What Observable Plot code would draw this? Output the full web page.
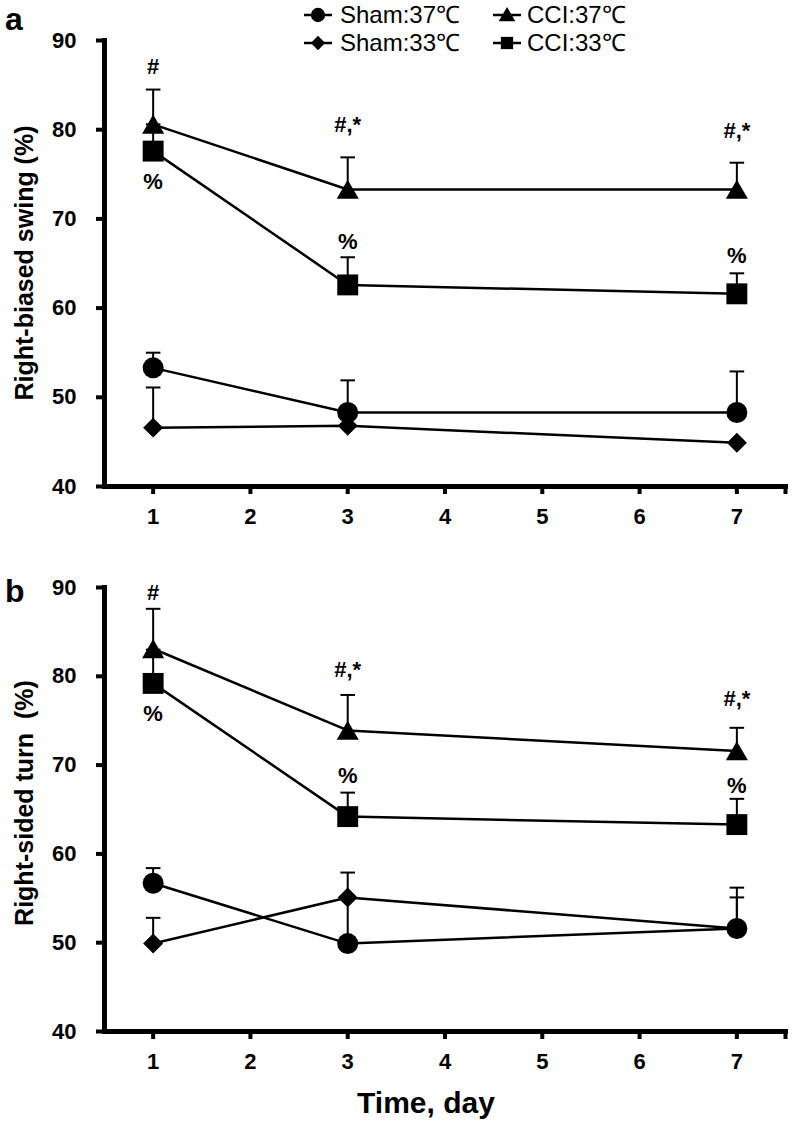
<!DOCTYPE html>
<html>
<head>
<meta charset="utf-8">
<script src="https://cdn.jsdelivr.net/npm/d3@7"></script>
<script src="https://cdn.jsdelivr.net/npm/@observablehq/plot@0.6"></script>
<style>
  body { margin: 0; background: white; }
  #root { position: relative; width: 792px; height: 1124px; overflow: hidden; background: white; }
  .abs { position: absolute; white-space: nowrap; }
  .panel { position: absolute; left: 0; }
  .panel text { font-family: "Liberation Sans", Arial, sans-serif; font-weight: bold; }
  .panel [aria-label$="tick label"] text { font-size: 22px !important; font-weight: bold; }
  .panel [aria-label$="axis tick"] { stroke-width: 4px !important; }
  .panel [aria-label="frame"] { stroke-width: 5px !important; }
  .ylab { position: absolute; font-family: "Liberation Sans", Arial, sans-serif; font-weight: bold; font-size: 25px;
          transform: translate(-50%, -50%) rotate(-90deg); white-space: pre; }
  .legtext { position: absolute; font-family: "Liberation Sans", Arial, sans-serif; font-size: 24px; line-height: 24px; transform: translateY(-50%); white-space: nowrap; }
</style>
</head>
<body>
<div id="root"></div>
<script>
// ---------------- data ----------------
const days = [1, 3, 7];
const groups = ["Sham:37℃", "Sham:33℃", "CCI:37℃", "CCI:33℃"];
const symbols = ["circle", "diamond2", "triangle", "square"];
const yTicks = [40, 50, 60, 70, 80, 90];
const xTicks = [1, 2, 3, 4, 5, 6, 7, 7.5];

// Panel a: Right-biased swing (%)
const aSham37 = [53.3, 48.3, 48.3];
const aSham37Err = [55.0, 51.9, 52.9];
const aSham33 = [46.6, 46.8, 44.9];
const aSham33Err = [51.1, null, null];
const aCCI37 = [80.6, 73.3, 73.3];
const aCCI37Err = [84.5, 76.9, 76.3];
const aCCI33 = [77.6, 62.6, 61.6];
const aCCI33Err = [80.6, 65.7, 63.9];

// Panel b: Right-sided turn (%)
const bSham37 = [56.7, 49.9, 51.6];
const bSham37Err = [58.4, 57.9, 56.2];
const bSham33 = [49.9, 55.1, 51.6];
const bSham33Err = [52.8, null, 55.1];
const bCCI37 = [83.1, 73.9, 71.6];
const bCCI37Err = [87.6, 77.9, 74.2];
const bCCI33 = [79.2, 64.2, 63.3];
const bCCI33Err = [83.0, 66.9, 66.2];

// significance annotations
const annDays = [1, 1, 3, 3, 7, 7];
const annLabels = ["#", "%", "#,*", "%", "#,*", "%"];
const aAnnY = [87.0, 74.1, 80.5, 67.4, 79.9, 65.8];
const bAnnY = [89.4, 75.8, 80.7, 68.8, 77.4, 67.7];

// ---------------- build ----------------
const symR = {circle: 10.5, diamond2: 9, triangle: 8.2, square: 11.8};
const symDy = {circle: 0, diamond2: 0, triangle: 3, square: 0};

function panel(series, annY, height, marginTop, marginBottom) {
  const data = [];
  groups.forEach((g, gi) => days.forEach((d, i) =>
    data.push({group: g, sym: symbols[gi], day: d, value: series[gi][0][i], err: series[gi][1][i]})));
  const errData = data.filter(d => d.err != null);
  const ann = annDays.map((d, i) => ({day: d, y: annY[i], label: annLabels[i]}));
  const dots = symbols.map(s => Plot.dot(data.filter(d => d.sym === s),
    {x: "day", y: "value", symbol: () => s, fill: "black", stroke: "none", r: symR[s], dy: symDy[s]}));
  return Plot.plot({
    width: 792, height, marginLeft: 104, marginRight: 7, marginTop, marginBottom,
    x: {domain: [0.5, 7.5]},
    y: {domain: [40, 90]},
    symbol: {type: "identity"},
    marks: [
      Plot.axisY({ticks: yTicks, tickSize: 8, tickPadding: 20, strokeWidth: 4, label: null, fontSize: 22}),
      Plot.axisX({ticks: xTicks, tickSize: 8, tickPadding: 14, strokeWidth: 4, label: null, fontSize: 22,
                  tickFormat: d => d === 7.5 ? "" : String(d)}),
      Plot.frame({anchor: "left", stroke: "black", strokeWidth: 5}),
      Plot.frame({anchor: "bottom", stroke: "black", strokeWidth: 5}),
      Plot.link(errData, {x1: "day", x2: "day", y1: "value", y2: "err", stroke: "black", strokeWidth: 2}),
      Plot.link(errData, {y1: "err", y2: "err", x1: d => d.day - 0.075, x2: d => d.day + 0.075, stroke: "black", strokeWidth: 2}),
      Plot.line(data, {x: "day", y: "value", z: "group", stroke: "black", strokeWidth: 2.5}),
      ...dots,
      Plot.text(ann, {x: "day", y: "y", text: "label", fontSize: 22, fontWeight: "bold", fill: "black"})
    ]
  });
}

const root = document.getElementById("root");

const pa = panel([[aSham37, aSham37Err], [aSham33, aSham33Err], [aCCI37, aCCI37Err], [aCCI33, aCCI33Err]], aAnnY, 545, 40, 59);
pa.classList.add("panel"); pa.style.top = "0px";
root.appendChild(pa);

const pb = panel([[bSham37, bSham37Err], [bSham33, bSham33Err], [bCCI37, bCCI37Err], [bCCI33, bCCI33Err]], bAnnY, 579, 42, 93);
pb.classList.add("panel"); pb.style.top = "545px";
root.appendChild(pb);

function addDiv(text, css, cls) {
  const el = document.createElement("div");
  el.className = cls || "abs";
  el.textContent = text;
  Object.assign(el.style, css);
  root.appendChild(el);
  return el;
}

// panel letters
addDiv("a", {left: "5px", top: "1px", fontFamily: "Liberation Sans, Arial, sans-serif", fontWeight: "bold", fontSize: "32px"});
addDiv("b", {left: "5px", top: "573px", fontFamily: "Liberation Sans, Arial, sans-serif", fontWeight: "bold", fontSize: "32px"});

// axis titles
addDiv("Right-biased swing (%)", {left: "24px", top: "263px"}, "ylab");
addDiv("Right-sided turn\u00a0 (%)", {left: "24px", top: "803px"}, "ylab");
addDiv("Time, day", {left: "426px", top: "1103px", transform: "translate(-50%, -50%)", fontFamily: "Liberation Sans, Arial, sans-serif", fontWeight: "bold", fontSize: "30px", lineHeight: "1"});

// legend
const legItems = [
  {g: 0, cx: 318, cy: 15, tx: 340},
  {g: 2, cx: 507, cy: 15, tx: 527},
  {g: 1, cx: 318, cy: 43, tx: 340},
  {g: 3, cx: 507, cy: 43, tx: 527}
];
const legSym = {circle: d3.symbolCircle, diamond2: d3.symbolDiamond2, triangle: d3.symbolTriangle, square: d3.symbolSquare};
const legSize = {circle: 160, diamond2: 130, triangle: 120, square: 150};
legItems.forEach(it => {
  const s = symbols[it.g];
  const svg = d3.create("svg").attr("width", 30).attr("height", 24)
    .style("position", "absolute").style("left", (it.cx - 15) + "px").style("top", (it.cy - 12) + "px");
  svg.append("line").attr("x1", 1).attr("x2", 29).attr("y1", 12).attr("y2", 12).attr("stroke", "black").attr("stroke-width", 2.5);
  svg.append("path").attr("d", d3.symbol(legSym[s], legSize[s])()).attr("transform", `translate(15,${s === "triangle" ? 13.5 : 12})`).attr("fill", "black");
  root.appendChild(svg.node());
  addDiv(groups[it.g], {left: it.tx + "px", top: it.cy + "px"}, "legtext");
});
</script>
</body>
</html>
